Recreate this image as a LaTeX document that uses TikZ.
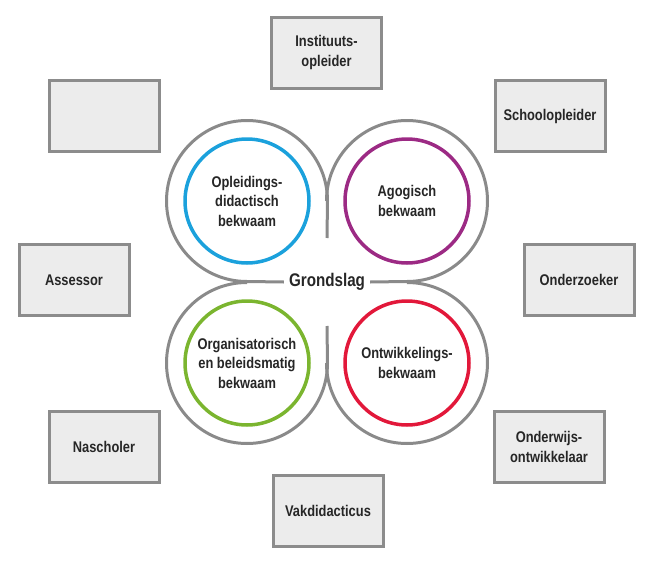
\documentclass[tikz,border=0pt]{standalone}
\usepackage{fontspec}
\setmainfont{Liberation Sans}[FakeStretch=0.83]

\definecolor{boxline}{HTML}{8C8C8C}
\definecolor{boxfill}{HTML}{ECECEC}
\definecolor{ringgrey}{HTML}{8A8A8A}
\definecolor{txt}{HTML}{262626}
\definecolor{oplblue}{HTML}{1BA1DC}
\definecolor{agopurple}{HTML}{9C2A84}
\definecolor{orggreen}{HTML}{7BB52F}
\definecolor{ontred}{HTML}{E2183A}

\newcommand{\labelfont}{\bfseries\fontsize{15.5}{19.5}\selectfont}

\begin{document}
\begin{tikzpicture}[x=1pt, y=-1pt,
    box/.style={draw=boxline, fill=boxfill, line width=3pt, minimum width=110pt, minimum height=71pt, align=center, font=\labelfont, text=txt},
    ring/.style={circle, minimum size=161pt, inner sep=0pt, outer sep=0pt},
    greyline/.style={draw=ringgrey, line width=3pt},
    comp/.style={circle, line width=3.5pt, minimum size=124pt, inner sep=0pt, align=center, font=\labelfont, text=txt}]
        \useasboundingbox (0,0) rectangle (657,562);

        % grey rings round the four competences, open towards the middle
        \node[ring] (ringtl) at (247, 201) {};
        \node[ring] (ringtr) at (407, 201) {};
        \node[ring] (ringbl) at (247, 363) {};
        \node[ring] (ringbr) at (407, 363) {};

        \draw[greyline] (ringtl.east) arc[start angle=0, end angle=-270, radius=80.5];
        \draw[greyline] (ringtr.west) arc[start angle=180, end angle=450, radius=80.5];
        \draw[greyline] (ringbl.east) arc[start angle=0, end angle=270, radius=80.5];
        \draw[greyline] (ringbr.west) arc[start angle=180, end angle=-90, radius=80.5];

        \node[font=\bfseries\fontsize{18.3}{20}\selectfont, text=txt, inner xsep=5pt] (grond) at (327, 282) {Grondslag};
        \coordinate (vtop) at (327, 238);
        \coordinate (vbot) at (327, 326);

        \draw[greyline] (ringtl.south) -- (grond.west);
        \draw[greyline] (ringtr.south) -- (grond.east);
        \draw[greyline] (ringtl.east) -- (vtop);
        \draw[greyline] (ringbl.east) -- (vbot);

        % competences
        \node[comp, draw=oplblue] (opl) at (247, 201) {Opleidings-\\didactisch\\bekwaam};
        \node[comp, draw=agopurple] (ago) at (407, 201) {Agogisch\\bekwaam};
        \node[comp, draw=orggreen] (org) at (247, 363) {Organisatorisch\\en beleidsmatig\\bekwaam};
        \node[comp, draw=ontred] (ont) at (407, 363) {Ontwikkelings-\\bekwaam};

        % roles
        \node[box] (inst) at (326.5, 52.5) {Instituuts-\\opleider};
        \node[box] (leeg) at (104, 116) {};
        \node[box] (school) at (550, 116) {Schoolopleider};
        \node[box] (assessor) at (74, 280) {Assessor};
        \node[box] (onderzoeker) at (579, 280) {Onderzoeker};
        \node[box] (nascholer) at (104, 447) {Nascholer};
        \node[box] (onderwijs) at (549, 447) {Onderwijs-\\ontwikkelaar};
        \node[box] (vakdid) at (328, 511) {Vakdidacticus};
    \end{tikzpicture}
\end{document}
